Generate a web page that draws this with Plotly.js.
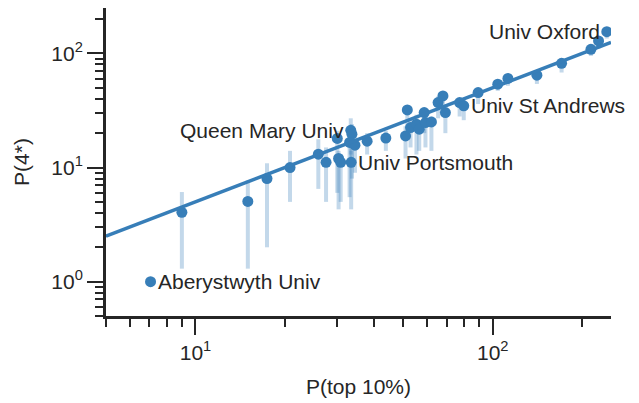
<!DOCTYPE html>
<html>
<head>
<meta charset="utf-8">
<script src="https://cdn.plot.ly/plotly-3.0.1.min.js"></script>
<style>html,body{margin:0;padding:0;background:#fff;}#chart{width:639px;height:403px;}</style>
</head>
<body>
<div id="chart"></div>
<script>
// P(top 10%) per institution
const pTop10 = [7.06, 9.0, 15.0, 17.4, 20.8, 25.9, 27.5, 30.0, 30.3, 30.8, 33.3, 33.6, 33.0, 34.4, 33.4,
  37.8, 43.7, 50.9, 51.6, 52.9, 55.4, 56.6, 58.8, 59.4, 62.2, 65.5, 68.0, 69.3, 77.4, 79.9,
  89.3, 104, 112.5, 140.8, 170.5, 214, 227, 242];
// P(4*) per institution
const p4star = [1.0, 4.05, 5.05, 8.0, 10.0, 13.1, 11.1, 18.0, 12.0, 11.1, 21.2, 19.6, 16.6, 15.7, 11.1,
  17.0, 18.1, 18.9, 32.0, 22.4, 24.0, 21.7, 30.3, 24.8, 25.1, 37.1, 42.4, 30.3, 37.1, 34.7,
  45.4, 53.7, 60.3, 64.4, 81.9, 108.6, 128.5, 155];
// interval bounds of P(4*)
const p4Low = [1.0, 1.3, 1.3, 2.0, 5.0, 6.5, 5.0, 6.0, 4.3, 5.0, 13, 8, 5.5, 9, 4.3,
  13, 14, 12, 22, 15, 13, 14, 20, 15, 14, 27, 33, 20, 28, 26,
  36, 47, 52, 54, 68, 95, 110, 135];
const p4High = [1.0, 6.1, 7.7, 10.9, 14, 17.7, 15, 21, 14, 13, 27, 24, 20, 20, 14,
  20, 21, 23, 35, 27, 29, 25, 33, 28, 28, 42, 46, 33, 40, 40,
  49, 58, 64, 70, 88, 114, 135, 160];
// fitted power-law line end points
const fitX = [5, 250];
const fitY = [2.5, 125];
// labelled institutions
const labelNames = ["Aberystwyth Univ", "Univ Portsmouth", "Queen Mary Univ", "Univ St Andrews", "Univ Oxford"];
const labelIndex = [0, 14, 10, 29, 37];
const labelSide = ["right", "right", "left", "right", "left"];
// axis ticks
const majorTicks = [1, 10, 100];
const majorTickText = ["10<sup>0</sup>", "10<sup>1</sup>", "10<sup>2</sup>"];
const xMinorTicks = [5, 6, 7, 8, 9, 20, 30, 40, 50, 60, 70, 80, 90, 200];
const yMinorTicks = [0.5, 0.6, 0.7, 0.8, 0.9, 2, 3, 4, 5, 6, 7, 8, 9, 20, 30, 40, 50, 60, 70, 80, 90, 200];

const blue = '#377eb8';
const ink = '#262626';
const font = 'Liberation Sans, Arial, sans-serif';

const points = {
  x: pTop10, y: p4star, type: 'scatter', mode: 'markers',
  marker: {color: blue, size: 11},
  error_y: {
    type: 'data', symmetric: false,
    array: p4High.map((h, i) => h - p4star[i]),
    arrayminus: p4Low.map((l, i) => p4star[i] - l),
    color: 'rgba(55,126,184,0.3)', thickness: 4, width: 0
  },
  hoverinfo: 'x+y'
};
const fit = {
  x: fitX, y: fitY, type: 'scatter', mode: 'lines',
  line: {color: blue, width: 3.5}, hoverinfo: 'skip'
};

const annotations = labelNames.map((name, k) => {
  const i = labelIndex[k];
  const right = labelSide[k] === 'right';
  return {
    x: Math.log10(pTop10[i]), y: Math.log10(p4star[i]), xref: 'x', yref: 'y',
    text: name, showarrow: false,
    xanchor: right ? 'left' : 'right', yanchor: 'middle',
    xshift: right ? 5 : -5,
    font: {family: font, size: 21, color: ink}
  };
});

const axisCommon = {
  type: 'log', showline: true, linecolor: ink, linewidth: 3, mirror: false,
  showgrid: false, zeroline: false,
  ticks: 'outside', ticklen: 16, tickwidth: 2, tickcolor: ink,
  tickmode: 'array', tickvals: majorTicks, ticktext: majorTickText,
  tickfont: {family: font, size: 21, color: ink}
};

const layout = {
  width: 639, height: 403,
  margin: {l: 106, r: 28, t: 8, b: 87},
  paper_bgcolor: '#fff', plot_bgcolor: '#fff',
  showlegend: false,
  font: {family: font, color: ink},
  xaxis: Object.assign({}, axisCommon, {
    range: [Math.log10(5), Math.log10(250)],
    minor: {tickmode: 'array', tickvals: xMinorTicks, ticks: 'outside', ticklen: 8, tickwidth: 2, tickcolor: ink, showgrid: false},
    title: {text: 'P(top 10%)', font: {family: font, size: 21, color: ink}, standoff: 17}
  }),
  yaxis: Object.assign({}, axisCommon, {
    range: [Math.log10(0.5), Math.log10(250)],
    minor: {tickmode: 'array', tickvals: yMinorTicks, ticks: 'outside', ticklen: 8, tickwidth: 2, tickcolor: ink, showgrid: false},
    title: {text: 'P(4*)', font: {family: font, size: 21, color: ink}, standoff: 16}
  }),
  annotations: annotations
};

Plotly.newPlot('chart', [points, fit], layout, {displayModeBar: false, staticPlot: true});
</script>
</body>
</html>
